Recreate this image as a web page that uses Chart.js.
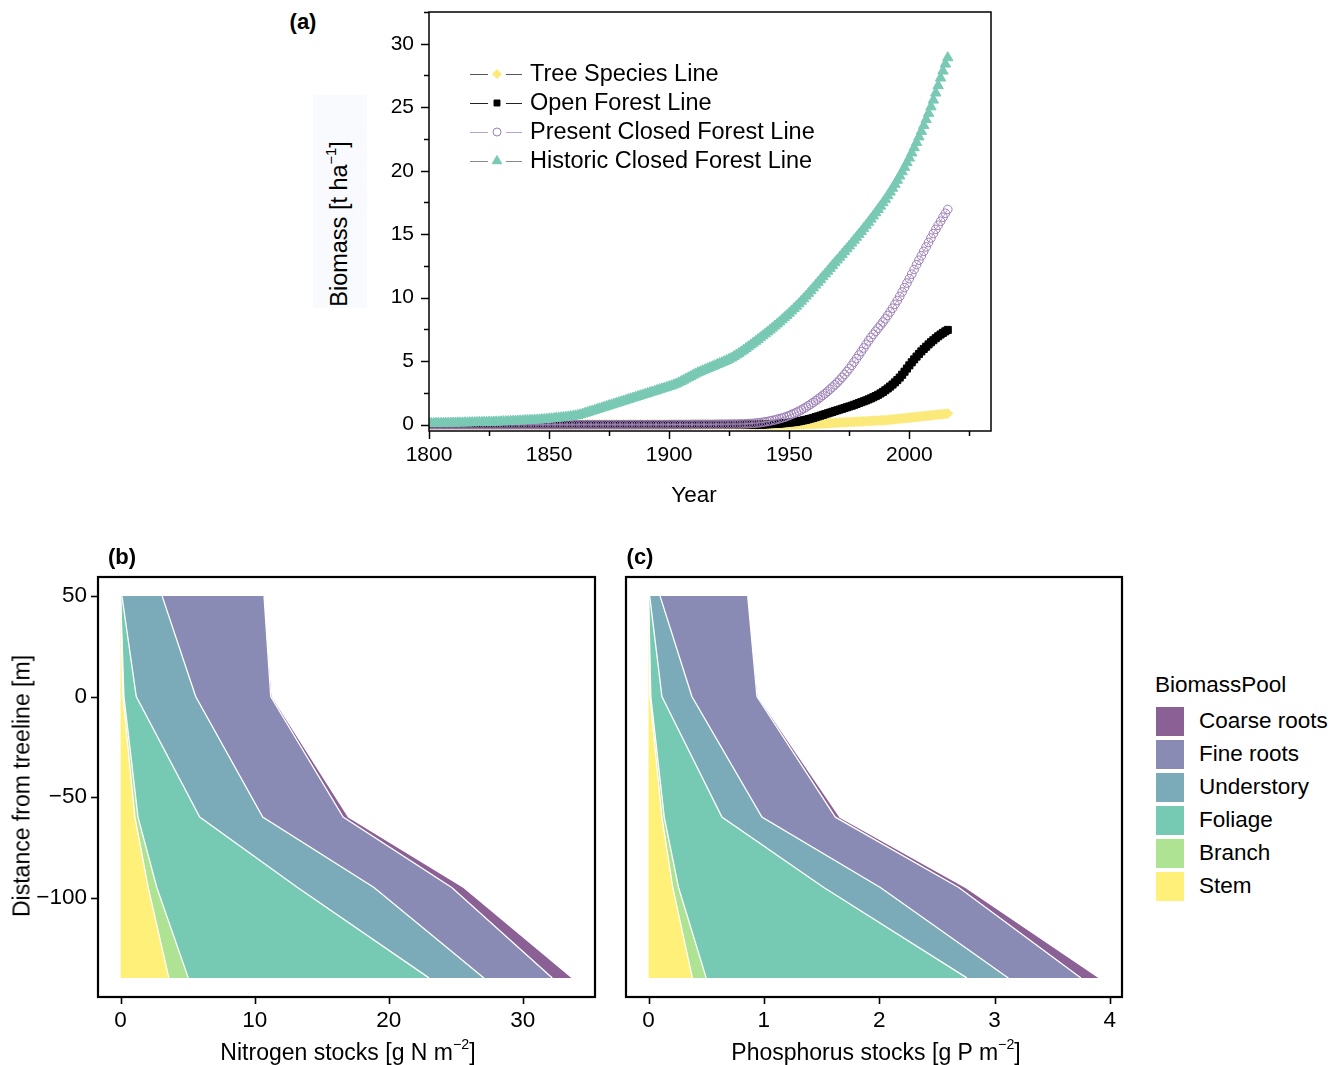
<!DOCTYPE html>
<html>
<head>
<meta charset="utf-8">
<script src="https://cdn.jsdelivr.net/npm/chart.js@4.4.1/dist/chart.umd.min.js"></script>
<style>
  body { margin: 0; background: #fff; width: 1343px; height: 1065px; position: relative; overflow: hidden;
         font-family: "Liberation Sans", Arial, sans-serif; color: #000; }
  canvas { position: absolute; }
  .t { position: absolute; white-space: nowrap; font-size: 23px; line-height: 1; transform: translate(-50%, -50%); }
  .rot { transform: translate(-50%, -50%) rotate(-90deg); }
  .b { font-weight: bold; font-size: 22px; }
  sup { font-size: 0.62em; vertical-align: 0.75em; line-height: 0; }
  .key { position: absolute; left: 1156px; width: 28px; height: 29px; }
  .lab { position: absolute; left: 1199px; font-size: 22.5px; line-height: 1; transform: translateY(-50%); white-space: nowrap; }
</style>
</head>
<body>
<div style="position:absolute;left:313px;top:95px;width:54px;height:213px;background:#f8fafd"></div>
<canvas id="chartA" width="660" height="520" style="left:360px;top:0"></canvas>
<canvas id="chartB" width="610" height="505" style="left:0;top:560px"></canvas>
<canvas id="chartC" width="530" height="505" style="left:610px;top:560px"></canvas>

<div class="t b" style="left:303px;top:22px">(a)</div>
<div class="t b" style="left:122px;top:557px">(b)</div>
<div class="t b" style="left:640px;top:557px">(c)</div>
<div class="t" style="left:694px;top:495px;font-size:22.5px">Year</div>
<div class="t rot" style="left:340px;top:224px;font-size:23.5px">Biomass [t ha<sup>&minus;1</sup>]</div>
<div class="t rot" style="left:22px;top:786px">Distance from treeline [m]</div>
<div class="t" style="left:348px;top:1052px">Nitrogen stocks [g N m<sup>&minus;2</sup>]</div>
<div class="t" style="left:876px;top:1052px">Phosphorus stocks [g P m<sup>&minus;2</sup>]</div>
<div id="poolLegend"></div>

<script>
// ---- panel (a): biomass per year, 1800-2016 (annual values)
const startYear = 1800;
const treeSpecies = [
  0,0,0,0,0,0,0,0,0,0, 0,0,0,0,0,0,0,0,0,0, 0,0,0,0,0,0,0,0,0,0, 0,0,0,0,0,0,0,0,0,0, 0,0,0,0,0,0,0,0,0,0,
  0,0,0,0,0,0,0,0,0,0, 0,0,0,0,0,0,0,0,0,0, 0,0,0,0,0,0,0,0,0,0, 0,0,0,0,0,0,0,0,0,0, 0,0,0,0,0,0,0,0,0,0,
  0,0,0,0,0,0,0,0,0,0, 0,0,0,0,0,0,0,0,0,0, 0,0,0,0,0,0,0,0,0,0, 0,0,0,0,0,0,0,0,0,0, 0,0,0,0,0,0,0,0,0,0,
  0.00,0.01,0.01,0.02,0.02,0.03,0.03,0.04,0.04,0.05,
  0.05,0.06,0.07,0.08,0.09,0.10,0.11,0.12,0.13,0.14,
  0.15,0.16,0.17,0.18,0.19,0.20,0.21,0.22,0.23,0.24,
  0.25,0.26,0.27,0.28,0.29,0.30,0.31,0.32,0.33,0.34,
  0.35,0.37,0.39,0.41,0.43,0.45,0.47,0.49,0.51,0.53,
  0.55,0.57,0.59,0.61,0.63,0.65,0.67,0.69,0.71,0.73,
  0.75,0.77,0.79,0.81,0.83,0.85,0.87
];
const openForest = [
  0,0,0,0,0,0,0,0,0,0, 0,0,0,0,0,0,0,0,0,0, 0,0,0,0,0,0,0,0,0,0, 0,0,0,0,0,0,0,0,0,0, 0,0,0,0,0,0,0,0,0,0,
  0,0,0,0,0,0,0,0,0,0, 0,0,0,0,0,0,0,0,0,0, 0,0,0,0,0,0,0,0,0,0, 0,0,0,0,0,0,0,0,0,0, 0,0,0,0,0,0,0,0,0,0,
  0,0,0,0,0,0,0,0,0,0, 0,0,0,0,0,0,0,0,0,0, 0,0,0,0,0,0,0,0,0,0, 0,0,0,0,0,0,0,0,0,0,
  0.02,0.03,0.04,0.05,0.06,0.07,0.08,0.10,0.12,0.14,
  0.16,0.18,0.20,0.23,0.26,0.30,0.34,0.38,0.43,0.48,
  0.53,0.59,0.65,0.71,0.77,0.83,0.89,0.95,1.01,1.07,
  1.13,1.19,1.25,1.31,1.37,1.43,1.49,1.56,1.63,1.70,
  1.77,1.84,1.91,1.99,2.07,2.16,2.25,2.35,2.46,2.58,
  2.71,2.85,3.00,3.16,3.33,3.51,3.71,3.93,4.17,4.42,
  4.67,4.91,5.14,5.36,5.57,5.77,5.96,6.14,6.32,6.49,
  6.65,6.81,6.96,7.10,7.23,7.35,7.46
];
const presentClosed = [
  0,0,0,0,0,0,0,0,0,0, 0,0,0,0,0,0,0,0,0,0, 0,0,0,0,0,0,0,0,0,0, 0,0,0,0,0,0,0,0,0,0, 0,0,0,0,0,0,0,0,0,0,
  0,0,0,0,0,0,0,0,0,0, 0,0,0,0,0,0,0,0,0,0, 0,0,0,0,0,0,0,0,0,0, 0,0,0,0,0,0,0,0,0,0, 0,0,0,0,0,0,0,0,0,0,
  0.01,0.01,0.01,0.01,0.01,0.01,0.01,0.01,0.01,0.01,
  0.02,0.02,0.02,0.02,0.02,0.02,0.02,0.02,0.02,0.02,
  0.03,0.03,0.03,0.03,0.03,0.04,0.04,0.04,0.04,0.05,
  0.05,0.06,0.07,0.08,0.09,0.10,0.12,0.14,0.16,0.19,
  0.22,0.25,0.29,0.33,0.37,0.42,0.47,0.52,0.58,0.65,
  0.72,0.80,0.88,0.97,1.06,1.16,1.27,1.38,1.50,1.62,
  1.75,1.88,2.02,2.16,2.31,2.46,2.62,2.79,2.96,3.14,
  3.32,3.52,3.73,3.95,4.18,4.42,4.67,4.93,5.20,5.48,
  5.76,6.04,6.32,6.60,6.87,7.12,7.36,7.60,7.84,8.08,
  8.33,8.60,8.88,9.17,9.47,9.78,10.10,10.45,10.80,11.15,
  11.50,11.85,12.22,12.60,12.95,13.30,13.65,14.00,14.35,14.70,
  15.05,15.38,15.70,16.02,16.34,16.65,16.95
];
const historicClosed = [
  0.10,0.10,0.10,0.11,0.11,0.11,0.12,0.12,0.12,0.13,
  0.13,0.13,0.14,0.14,0.14,0.15,0.15,0.16,0.16,0.17,
  0.17,0.18,0.18,0.19,0.19,0.20,0.20,0.21,0.22,0.22,
  0.23,0.24,0.24,0.25,0.26,0.27,0.28,0.29,0.30,0.31,
  0.32,0.33,0.34,0.35,0.36,0.37,0.38,0.40,0.41,0.43,
  0.45,0.47,0.49,0.51,0.53,0.55,0.57,0.59,0.61,0.64,
  0.67,0.70,0.73,0.78,0.84,0.90,0.96,1.02,1.08,1.14,
  1.20,1.26,1.32,1.38,1.44,1.50,1.56,1.62,1.68,1.74,
  1.80,1.86,1.92,1.98,2.04,2.10,2.16,2.22,2.28,2.34,
  2.40,2.46,2.52,2.58,2.64,2.70,2.76,2.82,2.88,2.94,
  3.00,3.06,3.13,3.21,3.30,3.40,3.50,3.60,3.70,3.80,
  3.90,4.00,4.09,4.17,4.25,4.33,4.41,4.49,4.57,4.65,
  4.73,4.81,4.89,4.97,5.06,5.15,5.25,5.36,5.48,5.60,
  5.73,5.86,6.00,6.14,6.28,6.42,6.56,6.70,6.85,7.00,
  7.15,7.30,7.45,7.61,7.77,7.93,8.09,8.26,8.43,8.60,
  8.78,8.96,9.14,9.33,9.52,9.72,9.92,10.13,10.34,10.55,
  10.77,10.99,11.21,11.43,11.65,11.87,12.09,12.31,12.53,12.75,
  12.97,13.19,13.41,13.63,13.85,14.07,14.30,14.53,14.76,14.99,
  15.22,15.46,15.70,15.94,16.19,16.44,16.69,16.95,17.21,17.48,
  17.75,18.03,18.32,18.62,18.93,19.25,19.58,19.92,20.27,20.63,
  21.00,21.40,21.81,22.23,22.66,23.10,23.56,24.03,24.52,25.03,
  25.56,26.12,26.70,27.30,27.85,28.40,28.90
];
const yearTicks = [1800, 1850, 1900, 1950, 2000];
const yearMinor = [1825, 1875, 1925, 1975, 2025];
const biomassTicks = [0, 5, 10, 15, 20, 25, 30];
const biomassMinor = [2.5, 7.5, 12.5, 17.5, 22.5, 27.5, 32.5];

// ---- panels (b), (c): stocks per pool along the treeline transect
const distanceRows = [50, 0, -60, -95, -140];
const poolNames = ['Stem', 'Branch', 'Foliage', 'Understory', 'Fine roots', 'Coarse roots'];
const poolColors = ['#fef078', '#ade393', '#76c9b3', '#7babb9', '#898bb5', '#8b6195'];
const nStem = [0, 0.17, 1.07, 2.06, 3.6];
const nBranch = [0, 0.08, 0.23, 0.64, 1.45];
const nFoliage = [0.1, 0.92, 4.6, 10.5, 17.95];
const nUnderstory = [3.0, 4.43, 4.7, 5.7, 4.1];
const nFineRoots = [7.6, 5.6, 6.0, 5.8, 5.1];
const nCoarseRoots = [0, 0.1, 0.4, 0.9, 1.5];
const pStem = [0, 0.012, 0.116, 0.21, 0.38];
const pBranch = [0, 0.008, 0.02, 0.05, 0.12];
const pFoliage = [0.01, 0.096, 0.5, 1.26, 2.26];
const pUnderstory = [0.09, 0.26, 0.347, 0.49, 0.36];
const pFineRoots = [0.76, 0.564, 0.637, 0.68, 0.63];
const pCoarseRoots = [0, 0.01, 0.04, 0.06, 0.16];
const distanceTicks = [50, 0, -50, -100];
const nitrogenTicks = [0, 10, 20, 30];
const phosphorusTicks = [0, 1, 2, 3, 4];

const FONT = '"Liberation Sans", Arial, sans-serif';
Chart.defaults.font.family = FONT;
Chart.defaults.color = '#000';

const minus = v => (v < 0 ? '\u2212' + Math.abs(v) : String(v));

// box round the plot area plus outward tick marks
const boxTicks = {
  id: 'boxTicks',
  afterDraw(chart, args, o) {
    const { ctx, chartArea: a, scales } = chart;
    ctx.save();
    ctx.strokeStyle = '#000';
    ctx.lineWidth = o.lineWidth;
    ctx.strokeRect(a.left, a.top, a.right - a.left, a.bottom - a.top);
    ctx.lineWidth = o.tickWidth;
    (o.x || []).forEach(([vals, len]) => vals.forEach(v => {
      const px = Math.round(scales.x.getPixelForValue(v)) + 0.5;
      ctx.beginPath(); ctx.moveTo(px, a.bottom); ctx.lineTo(px, a.bottom + len); ctx.stroke();
    }));
    (o.y || []).forEach(([vals, len]) => vals.forEach(v => {
      const py = Math.round(scales.y.getPixelForValue(v)) + 0.5;
      ctx.beginPath(); ctx.moveTo(a.left, py); ctx.lineTo(a.left - len, py); ctx.stroke();
    }));
    ctx.restore();
  }
};

// line - marker - line legend inside panel (a)
const seriesLegend = {
  id: 'seriesLegend',
  afterDraw(chart, args, o) {
    const ctx = chart.ctx;
    ctx.save();
    chart.data.datasets.forEach((ds, i) => {
      const y = o.top + i * o.gap;
      ctx.strokeStyle = ds.borderColor;
      ctx.lineWidth = 1;
      ctx.beginPath();
      ctx.moveTo(o.left, y + 0.5); ctx.lineTo(o.left + 18, y + 0.5);
      ctx.moveTo(o.left + 36, y + 0.5); ctx.lineTo(o.left + 52, y + 0.5);
      ctx.stroke();
      ctx.fillStyle = ds.pointBackgroundColor;
      ctx.strokeStyle = ds.pointBorderColor;
      ctx.lineWidth = ds.pointBorderWidth;
      Chart.helpers.drawPoint(ctx, { pointStyle: ds.pointStyle, radius: ds.legendRadius, rotation: 0, borderWidth: ds.pointBorderWidth }, o.left + 27, y);
      ctx.fillStyle = '#000';
      ctx.font = '23.5px ' + FONT;
      ctx.textBaseline = 'middle';
      ctx.fillText(ds.label, o.left + 60, y + 1);
    });
    ctx.restore();
  }
};

const yearly = vals => vals.map((v, i) => ({ x: startYear + i, y: v }));

new Chart(document.getElementById('chartA'), {
  type: 'line',
  data: {
    datasets: [
      { label: 'Tree Species Line', data: yearly(treeSpecies), order: 3, borderColor: '#555', borderWidth: 1,
        pointStyle: 'rectRot', pointRadius: 5, legendRadius: 4.5, pointBackgroundColor: '#fbe97a', pointBorderColor: '#fbe97a', pointBorderWidth: 1 },
      { label: 'Open Forest Line', data: yearly(openForest), order: 2, borderColor: '#222', borderWidth: 1,
        pointStyle: 'rect', pointRadius: 5, legendRadius: 4.2, pointBackgroundColor: '#000', pointBorderColor: '#000', pointBorderWidth: 1 },
      { label: 'Present Closed Forest Line', data: yearly(presentClosed), order: 1, borderColor: '#b9a3cc', borderWidth: 1,
        pointStyle: 'circle', pointRadius: 4.3, legendRadius: 4, pointBackgroundColor: 'rgba(255,255,255,0)', pointBorderColor: '#9c7fb6', pointBorderWidth: 1 },
      { label: 'Historic Closed Forest Line', data: yearly(historicClosed), order: 0, borderColor: '#888', borderWidth: 1,
        pointStyle: 'triangle', pointRadius: 6, legendRadius: 5.5, pointBackgroundColor: '#79c9b4', pointBorderColor: '#79c9b4', pointBorderWidth: 1 }
    ]
  },
  options: {
    responsive: false,
    animation: false,
    layout: { padding: { top: 12, right: 29, bottom: 0, left: 0 } },
    plugins: {
      legend: { display: false },
      tooltip: { enabled: false },
      boxTicks: { lineWidth: 1.5, tickWidth: 1.5, x: [[yearTicks, 8], [yearMinor, 5]], y: [[biomassTicks, 8], [biomassMinor, 5]] },
      seriesLegend: { left: 110, top: 74, gap: 29 }
    },
    scales: {
      x: {
        type: 'linear', min: 1800, max: 2034,
        afterFit(s) { s.height = 89; s.paddingLeft = 0; s.paddingRight = 0; },
        afterBuildTicks(s) { s.ticks = yearTicks.map(v => ({ value: v })); },
        grid: { display: false, drawTicks: false }, border: { display: false },
        ticks: { padding: 12, font: { size: 21 }, maxRotation: 0, autoSkip: false, callback: v => String(v) }
      },
      y: {
        type: 'linear', min: -0.5, max: 32.5,
        afterFit(s) { s.width = 69; s.paddingTop = 0; s.paddingBottom = 0; },
        afterBuildTicks(s) { s.ticks = biomassTicks.map(v => ({ value: v })); },
        grid: { display: false, drawTicks: false }, border: { display: false },
        ticks: { padding: 15, font: { size: 21 }, autoSkip: false, callback: v => String(v) }
      }
    }
  },
  plugins: [boxTicks, seriesLegend]
});

function stockChart(id, pools, xMin, xMax, xTicks, showY, padLeft, padRight) {
  new Chart(document.getElementById(id), {
    type: 'line',
    data: {
      datasets: pools.map((vals, i) => ({
        label: poolNames[i],
        data: distanceRows.map((d, j) => ({ x: vals[j], y: d })),
        fill: i === 0 ? 'origin' : '-1',
        backgroundColor: poolColors[i],
        borderColor: '#fff',
        borderWidth: 1.3,
        pointRadius: 0,
        tension: 0
      }))
    },
    options: {
      indexAxis: 'y',
      responsive: false,
      animation: false,
      layout: { padding: { top: 17, right: padRight, bottom: 0, left: padLeft } },
      plugins: {
        legend: { display: false },
        tooltip: { enabled: false },
        boxTicks: { lineWidth: 2.2, tickWidth: 1.6, x: [[xTicks, 7]], y: showY ? [[distanceTicks, 7]] : [] }
      },
      scales: {
        x: {
          type: 'linear', stacked: true, min: xMin, max: xMax,
          afterFit(s) { s.height = 68; s.paddingLeft = 0; s.paddingRight = 0; },
          afterBuildTicks(s) { s.ticks = xTicks.map(v => ({ value: v })); },
          grid: { display: false, drawTicks: false }, border: { display: false },
          ticks: { padding: 10, font: { size: 22.5 }, maxRotation: 0, autoSkip: false, callback: minus }
        },
        y: {
          type: 'linear', min: -149.5, max: 59.5, display: showY,
          afterFit(s) { s.width = showY ? 98 : 0; s.paddingTop = 0; s.paddingBottom = 0; },
          afterBuildTicks(s) { s.ticks = distanceTicks.map(v => ({ value: v })); },
          grid: { display: false, drawTicks: false }, border: { display: false },
          ticks: { padding: 11, font: { size: 22.5 }, autoSkip: false, callback: minus }
        }
      }
    },
    plugins: [boxTicks]
  });
}

stockChart('chartB', [nStem, nBranch, nFoliage, nUnderstory, nFineRoots, nCoarseRoots], -1.685, 35.385, nitrogenTicks, true, 0, 15);
stockChart('chartC', [pStem, pBranch, pFoliage, pUnderstory, pFineRoots, pCoarseRoots], -0.1955, 4.1055, phosphorusTicks, false, 16, 18);

// shared legend for (b) and (c), top entry = outermost pool
const legendBox = document.getElementById('poolLegend');
let html = '<div class="lab" style="left:1155px;top:685px">BiomassPool</div>';
poolNames.slice().reverse().forEach((name, k) => {
  const col = poolColors[poolNames.length - 1 - k];
  const cy = 721 + k * 33;
  html += '<div class="key" style="top:' + (cy - 14) + 'px;background:' + col + '"></div>';
  html += '<div class="lab" style="top:' + cy + 'px">' + name + '</div>';
});
legendBox.innerHTML = html;
</script>
</body>
</html>
